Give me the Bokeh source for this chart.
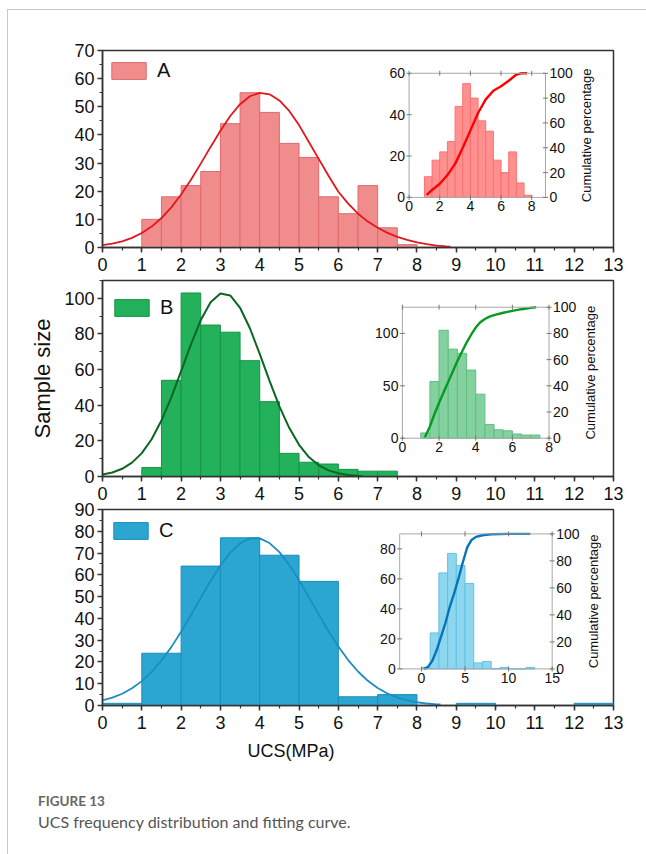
import math
from bokeh.plotting import figure
from bokeh.models import Range1d, SingleIntervalTicker, Legend, LegendItem, Div, Title
from bokeh.layouts import column
from bokeh.core.properties import value
from bokeh.embed import file_html
from bokeh.resources import INLINE

FONT = "Liberation Sans"

# ---------------- data: panel A ----------------
a_edges = [1.0, 1.5, 2.0, 2.5, 3.0, 3.5, 4.0, 4.5, 5.0, 5.5, 6.0, 6.5, 7.0, 7.5, 8.0]
a_counts = [10, 18, 22, 27, 44, 55, 48, 37, 32, 18, 12, 22, 7, 1]
a_fit_x = [0, 0.25, 0.5, 0.75, 1.0, 1.25, 1.5, 1.75, 2.0, 2.25, 2.5, 2.75, 3.0, 3.25, 3.5, 3.75,
           4.0, 4.25, 4.5, 4.75, 5.0, 5.25, 5.5, 5.75, 6.0, 6.25, 6.5, 6.75, 7.0, 7.25, 7.5, 7.75,
           8.0, 8.25, 8.5, 8.75, 8.85]
a_fit_y = [0.84, 1.38, 2.21, 3.42, 5.13, 7.44, 10.47, 14.27, 18.83, 24.07, 29.8, 35.74, 41.51, 46.71,
           50.92, 53.75, 54.97, 54.44, 52.24, 48.54, 43.5, 37.5, 31.5, 25.5, 19.8, 15.6, 12.0, 9.2,
           7.0, 5.2, 3.8, 2.7, 1.8, 1.2, 0.7, 0.4, 0.3]
a_cum_x = [1.15, 1.5, 2.0, 2.5, 3.0, 3.5, 4.0, 4.5, 5.0, 5.5, 6.0, 6.5, 7.0, 7.3, 7.7]
a_cum_y = [2, 6, 11, 18, 27, 40, 54, 68, 79, 86, 89.5, 94, 99, 100, 100]

# ---------------- data: panel B ----------------
b_edges = [1.0, 1.5, 2.0, 2.5, 3.0, 3.5, 4.0, 4.5, 5.0, 5.5, 6.0, 6.5, 7.0, 7.5]
b_counts = [5, 54, 103, 85, 81, 65, 42, 13, 8, 7, 4, 3, 3]
b_fit_x = [0, 0.25, 0.5, 0.75, 1.0, 1.25, 1.5, 1.75, 2.0, 2.25, 2.5, 2.75, 3.0, 3.25, 3.5, 3.75,
           4.0, 4.25, 4.5, 4.75, 5.0, 5.25, 5.5, 5.75, 6.0, 6.25, 6.5, 6.6]
b_fit_y = [1.12, 2.27, 4.33, 7.77, 13.13, 20.9, 31.4, 44.4, 59.1, 74.2, 87.8, 97.8, 102.7, 101.6,
           94.7, 83.2, 68.8, 53.7, 39.4, 27.3, 17.8, 10.9, 6.3, 3.46, 1.78, 0.86, 0.39, 0.28]
b_cum_x = [1.22, 1.5, 1.75, 2.0, 2.25, 2.5, 2.75, 3.0, 3.25, 3.5, 3.75, 4.0, 4.25, 4.5, 4.75, 5.0,
           5.5, 6.0, 6.5, 7.0, 7.3]
b_cum_y = [0.5, 9, 18.5, 27, 35, 43, 51, 59, 66, 73, 79, 84.5, 88.5, 91, 92.8, 94, 95.8, 97.2, 98.5,
           99.5, 100]

# ---------------- data: panel C ----------------
c_edges = [0, 1, 2, 3, 4, 5, 6, 7, 8, 9, 10, 11, 12, 13]
c_counts = [1, 24, 64, 77, 69, 57, 4, 5, 0, 1, 0, 0, 1]
c_fit_x = [0, 0.25, 0.5, 0.75, 1.0, 1.25, 1.5, 1.75, 2.0, 2.25, 2.5, 2.75, 3.0, 3.25, 3.5, 3.75,
           4.0, 4.25, 4.5, 4.75, 5.0, 5.25, 5.5, 5.75, 6.0, 6.25, 6.5, 6.75, 7.0, 7.25, 7.5, 7.75,
           8.0, 8.25, 8.5, 8.6]
c_fit_y = [2.32, 3.59, 5.4, 7.89, 11.19, 15.42, 20.63, 26.81, 33.85, 41.51, 49.45, 57.21, 64.31,
           70.21, 74.46, 76.7, 76.74, 74.59, 70.42, 64.57, 57.52, 49.77, 41.83, 34.14, 27.07, 20.85,
           15.6, 11.34, 8.01, 5.49, 3.66, 2.36, 1.49, 0.91, 0.54, 0.45]
c_cum_x = [0.3, 0.75, 1.25, 1.75, 2.25, 2.75, 3.25, 3.75, 4.25, 4.75, 5.25, 5.75, 6.25, 7.0, 8.0,
           10.0, 12.5]
c_cum_y = [0, 1.5, 6, 14, 24, 34, 46, 56, 67, 79, 90, 95.5, 97.8, 99, 99.7, 100, 100]

pct_ticks = [0, 20, 40, 60, 80, 100]


def style_axis(ax):
    ax.axis_line_color = "#333333"
    ax.axis_line_width = 1.5
    ax.major_tick_line_color = "#333333"
    ax.major_tick_line_width = 1.5
    ax.major_tick_in = 0
    ax.major_tick_out = 5
    ax.minor_tick_line_color = "#333333"
    ax.minor_tick_line_width = 1.2
    ax.minor_tick_in = 0
    ax.minor_tick_out = 3
    ax.major_label_text_font = FONT
    ax.major_label_text_font_size = "18px"
    ax.major_label_text_color = "#111111"


def make_main(height, ymax, ytick, top, bottom, **kw):
    p = figure(width=630, height=height, x_range=Range1d(0, 13), y_range=Range1d(0, ymax),
               output_backend="svg", toolbar_location=None,
               min_border_left=94, min_border_right=25, min_border_top=top, min_border_bottom=bottom,
               **kw)
    p.grid.visible = False
    p.outline_line_color = "#333333"
    p.outline_line_width = 1.5
    p.background_fill_color = "white"
    p.xaxis.ticker = SingleIntervalTicker(interval=1, num_minor_ticks=2)
    p.yaxis.ticker = SingleIntervalTicker(interval=ytick, num_minor_ticks=2)
    style_axis(p.xaxis[0])
    style_axis(p.yaxis[0])
    p.xaxis.major_label_standoff = 5
    p.yaxis.major_label_standoff = 3
    return p


def add_bars_fit(p, edges, counts, fit_x, fit_y, fill, line, fit_color, fit_w, name, loc):
    bars = p.quad(left=edges[:-1], right=edges[1:], bottom=0, top=counts,
                  fill_color=fill, line_color=line, line_width=1)
    p.line(fit_x, fit_y, line_color=fit_color, line_width=fit_w)
    leg = Legend(items=[LegendItem(label=name, renderers=[bars])], location=loc,
                 glyph_width=43, glyph_height=21, label_height=21, label_standoff=7,
                 label_text_font=FONT, label_text_font_size="20px", label_text_color="#111111",
                 padding=0, margin=0, spacing=0, border_line_color=None, background_fill_alpha=0)
    p.add_layout(leg)


def add_inset(p, edges, counts, cum_x, cum_y, xsrc, ysrc, xt, yt, xticks, yticks,
              fill, line, cum_color):
    sub = p.subplot(x_source=Range1d(*xsrc), y_source=Range1d(*ysrc),
                    x_target=Range1d(*xt), y_target=Range1d(*yt))
    sub2 = p.subplot(x_source=Range1d(*xsrc), y_source=Range1d(0, 100),
                     x_target=Range1d(*xt), y_target=Range1d(*yt))
    sub.quad(left=edges[:-1], right=edges[1:], bottom=0, top=counts,
             fill_color=fill, line_color=line, line_width=1)
    sub2.line(cum_x, cum_y, line_color=cum_color, line_width=2.4)
    sub.quad(left=[xsrc[0]], right=[xsrc[1]], bottom=[ysrc[0]], top=[ysrc[1]],
             fill_color=None, line_color="#a8a8a8", line_width=1)
    tk = dict(marker="dash", size=5, line_color="#777777", line_width=1)
    sub.scatter(x=[xsrc[0]] * len(yticks), y=yticks, **tk)
    sub2.scatter(x=[xsrc[1]] * len(pct_ticks), y=pct_ticks, **tk)
    sub.scatter(x=xticks, y=[ysrc[0]] * len(xticks), angle=math.pi / 2, **tk)
    sub.scatter(x=xticks, y=[ysrc[1]] * len(xticks), angle=math.pi / 2, **tk)
    txt = dict(text_font=value(FONT), text_font_size="14px", text_color="#111111")
    sub.text(x=[xsrc[0]] * len(yticks), y=yticks, text=[str(t) for t in yticks],
             x_offset=-4, text_align="right", text_baseline="middle", **txt)
    sub2.text(x=[xsrc[1]] * len(pct_ticks), y=pct_ticks, text=[str(t) for t in pct_ticks],
              x_offset=4, text_align="left", text_baseline="middle", **txt)
    sub.text(x=xticks, y=[ysrc[0]] * len(xticks), text=[str(t) for t in xticks],
             y_offset=4, text_align="center", text_baseline="top", **txt)
    sub2.text(x=[xsrc[1]], y=[50], text=["Cumulative percentage"], angle=math.pi / 2,
              x_offset=41, text_align="center", text_baseline="middle",
              text_font=value(FONT), text_font_size="13px", text_color="#111111")


# ---------------- panel A ----------------
pa = make_main(269, 70, 10, 40, 32)
add_bars_fit(pa, a_edges, a_counts, a_fit_x, a_fit_y, "#F08C8C", "#E06A6A", "#E3161B", 1.8, "A", (5, 165))
add_inset(pa, a_edges, a_counts, a_cum_x, a_cum_y, (0, 8.9), (0, 60), (7.80, 11.27), (17.8, 61.9),
          [0, 2, 4, 6, 8], [0, 20, 40, 60], "#FF9090", "#FF7070", "#FF0000")

# ---------------- panel B ----------------
pb = make_main(229, 110, 20, 1, 32)
pb.yaxis.axis_label = "Sample size"
pb.yaxis.axis_label_text_font = FONT
pb.yaxis.axis_label_text_font_size = "22px"
pb.yaxis.axis_label_text_font_style = "normal"
pb.yaxis.axis_label_text_color = "#111111"
pb.yaxis.axis_label_standoff = 6
add_bars_fit(pb, b_edges, b_counts, b_fit_x, b_fit_y, "#23B15B", "#179447", "#0B6623", 2.0, "B", (8, 157))
add_inset(pb, b_edges, b_counts, b_cum_x, b_cum_y, (0, 8), (0, 125), (7.63, 11.36), (21.5, 95.0),
          [0, 2, 4, 6, 8], [0, 50, 100], "#84D09E", "#5EBF80", "#079A21")

# ---------------- panel C (overlaps B's label strip; its border is transparent) ----------------
pc = make_main(286, 90, 10, 23, 67, margin=(-22, 0, 0, 0))
pc.border_fill_color = None
add_bars_fit(pc, c_edges, c_counts, c_fit_x, c_fit_y, "#2BA6D0", "#1C8DBB", "#1B8DC4", 1.8, "C", (7, 163))
add_inset(pc, c_edges, c_counts, c_cum_x, c_cum_y, (-2.5, 15), (0, 90), (7.56, 11.44), (16.8, 78.8),
          [0, 5, 10, 15], [0, 20, 40, 60, 80], "#8ED6EE", "#5FC3E6", "#0574B9")
pc.add_layout(Title(text="UCS(MPa)", align="left", offset=145, standoff=15, text_font=FONT,
                    text_font_size="18px", text_font_style="normal", text_color="#111111"), "below")

caption = Div(text=(
    '<div style="padding:16px 0 0 25px;font-family:Lato,sans-serif;color:#555555;">'
    '<div style="font-size:13.5px;font-weight:700;color:#666666;line-height:16px;">FIGURE 13</div>'
    '<div style="font-size:16px;line-height:22px;margin-top:2px;">'
    'UCS frequency distribution and fitting curve.</div></div>'),
    width=630, height=74)

layout = column(pa, pb, pc, caption, spacing=0,
                styles={"margin-left": "7px", "margin-top": "9px",
                        "border-left": "1px solid #c8c8c8", "border-top": "1px solid #c8c8c8"})

open("out.html", "w").write(file_html(layout, INLINE))
